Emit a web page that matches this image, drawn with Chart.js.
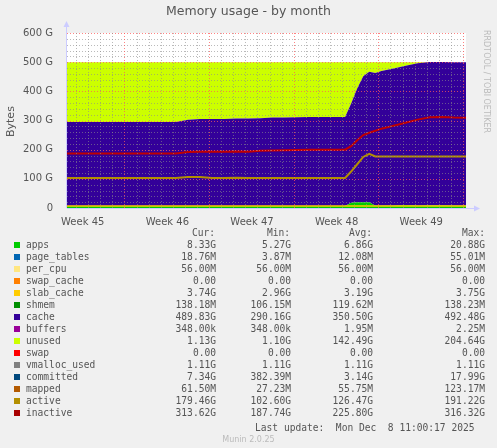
<!DOCTYPE html>
<html><head><meta charset="utf-8">
<script src="https://cdn.jsdelivr.net/npm/chart.js@4"></script>
<style>
body{margin:0;background:#f0f0f0;width:497px;height:448px;overflow:hidden;position:relative;font-family:"DejaVu Sans",sans-serif;color:#555}
#c{position:absolute;left:0;top:0}
.t{position:absolute;white-space:pre}
#leg{position:absolute;left:0;top:227px;font-family:"DejaVu Sans Mono",monospace;font-size:9.6px;color:#555}
.row{position:absolute;height:12px;white-space:pre}
.sq{position:absolute;left:14px;width:6px;height:6px;top:3px}
</style></head><body>
<canvas id="c" width="497" height="230"></canvas>
<div class="t" style="left:0;width:497px;text-align:center;top:3px;font-size:12.5px;color:#555">Memory usage - by month</div>
<div class="t" style="font-size:11px;transform:rotate(-90deg);transform-origin:left top;top:137px;left:4px">Bytes</div>
<div class="t" style="left:482px;top:30px;font-size:8px;color:#bbb;writing-mode:vertical-rl">RRDTOOL / TOBI OETIKER</div>
<div id="leg"></div>
<div class="t" style="left:0;width:497px;text-align:center;top:435px;font-size:8px;color:#bbb">Munin 2.0.25</div>
<script>
const days=[0,1,2,3,4,5,6,7,8,9,10,11,12,13,14,15,16,17,18,19,20,21,22,23,23.5,24,24.5,25,25.5,26,27,28,29,30,31,32,33];
const apps=[7,7,7,7,7,7,7,7,7,7,7,7,7,7,7,7,7,7,7,7,7,7,7,7,18,20,20,20,8,8,8,10,8,9,9,8,8];
const cache=[288,288,288,288,288,288,288,288,288,288,296,298,298,298,300,300,301,303,303,304,305,305,305,305,340,390,432,447,455,462,470,478,488,492,492,492,492];
const unused=[205,205,205,205,205,205,205,205,205,205,197,195,195,195,193,193,192,190,190,189,188,188,188,188,142,90,48,33,37,30,22,12,4,0,0,0,0];
const active=[103,103,103,103,103,103,103,103,103,103,106,106,103,103,104,103,103,103,103,103,103,103,103,103,125,150,175,186,177,177,177,177,177,177,177,177,177];
const inactive=[187,187,187,187,187,187,187,187,187,187,192,193,193,193,194,193,196,197,198,199,200,200,200,200,212,232,250,258,265,272,282,292,303,311,312,310,309];
const committed=[7,7,7,7,7,7,7,7,7,7,7,7,7,7,7,7,7,7,7,7,7,7,7,7,7,7,7,7,7,7,7,7,7,7,7,7,7];
const weekTicks=[1.3,8.3,15.3,22.3,29.3];
const weekLabels=["Week 45","Week 46","Week 47","Week 48","Week 49"];
const yTicks=[0,100,200,300,400,500,600];

const legRows=[
["apps","#00cc00","8.33G","5.27G","6.86G","20.88G"],
["page_tables","#0066b3","18.76M","3.87M","12.08M","55.01M"],
["per_cpu","#ffe680","56.00M","56.00M","56.00M","56.00M"],
["swap_cache","#ff8000","0.00","0.00","0.00","0.00"],
["slab_cache","#ffcc00","3.74G","2.96G","3.19G","3.75G"],
["shmem","#008f00","138.18M","106.15M","119.62M","138.23M"],
["cache","#330099","489.83G","290.16G","350.50G","492.48G"],
["buffers","#990099","348.00k","348.00k","1.95M","2.25M"],
["unused","#ccff00","1.13G","1.10G","142.49G","204.64G"],
["swap","#ff0000","0.00","0.00","0.00","0.00"],
["vmalloc_used","#808080","1.11G","1.11G","1.11G","1.11G"],
["committed","#00487d","7.34G","382.39M","3.14G","17.99G"],
["mapped","#b35a00","61.50M","27.23M","55.75M","123.17M"],
["active","#b38f00","179.46G","102.60G","126.47G","191.22G"],
["inactive","#a80000","313.62G","187.74G","225.80G","316.32G"]];
const leg=document.getElementById('leg');
let h='<div class="row" style="top:0;left:0"><span style="position:absolute;left:160px;width:55px;text-align:right">Cur:</span><span style="position:absolute;left:235px;width:55px;text-align:right">Min:</span><span style="position:absolute;left:317px;width:55px;text-align:right">Avg:</span><span style="position:absolute;left:425px;width:60px;text-align:right">Max:</span></div>';
legRows.forEach((r,i)=>{
 h+=`<div class="row" style="top:${12+i*12}px;left:0;width:497px"><div class="sq" style="background:${r[1]}"></div><span style="position:absolute;left:26px">${r[0]}</span><span style="position:absolute;left:140px;width:76px;text-align:right">${r[2]}</span><span style="position:absolute;left:215px;width:76px;text-align:right">${r[3]}</span><span style="position:absolute;left:297px;width:76px;text-align:right">${r[4]}</span><span style="position:absolute;left:409px;width:76px;text-align:right">${r[5]}</span></div>`;
});
h+='<div class="row" style="top:195px;left:255px">Last update:  Mon Dec  8 11:00:17 2025</div>';
leg.innerHTML=h;

const pts=a=>a.map((v,i)=>({x:days[i],y:v}));
const grid={id:'grid',beforeDatasetsDraw(ch){
 const {ctx,chartArea:a}=ch;ctx.save();
 ctx.fillStyle='#fff';ctx.fillRect(a.left,a.top,a.right-a.left,a.bottom-a.top);ctx.restore();},
 afterDatasetsDraw(ch){
 const {ctx,chartArea:a,scales:{x,y}}=ch;ctx.save();ctx.lineWidth=1;ctx.setLineDash([1,2]);
 for(let v=0;v<=600;v+=20){const py=Math.round(y.getPixelForValue(v))+0.5;ctx.strokeStyle=v%100==0?'rgba(255,90,90,0.75)':'rgba(140,140,140,0.6)';ctx.beginPath();ctx.moveTo(a.left,py);ctx.lineTo(a.right,py);ctx.stroke();}
 for(let d=0.75;d<=33;d+=1){const px=Math.round(x.getPixelForValue(d))+0.5;const maj=Math.abs(((d-4.75)%7+7)%7)<0.01;ctx.strokeStyle=maj?'rgba(255,90,90,0.75)':'rgba(140,140,140,0.6)';ctx.beginPath();ctx.moveTo(px,a.top);ctx.lineTo(px,a.bottom);ctx.stroke();}
 ctx.setLineDash([]);ctx.strokeStyle='#ccccff';ctx.beginPath();ctx.moveTo(a.left,a.bottom+0.5);ctx.lineTo(a.right+10,a.bottom+0.5);ctx.moveTo(a.left-0.5,a.bottom);ctx.lineTo(a.left-0.5,a.top-8);ctx.stroke();
 ctx.fillStyle='#ccccff';ctx.beginPath();ctx.moveTo(a.right+14,a.bottom+0.5);ctx.lineTo(a.right+8,a.bottom-2.5);ctx.lineTo(a.right+8,a.bottom+3.5);ctx.fill();
 ctx.beginPath();ctx.moveTo(a.left-0.5,a.top-12);ctx.lineTo(a.left-3.5,a.top-6);ctx.lineTo(a.left+2.5,a.top-6);ctx.fill();
 ctx.restore();}};
new Chart(document.getElementById('c'),{type:'line',
 data:{datasets:[
  {data:pts(apps),backgroundColor:'#00cc00',borderWidth:0,fill:'origin',stack:'s',pointRadius:0,order:10},
  {data:pts(cache),backgroundColor:'#330099',borderWidth:0,fill:'-1',stack:'s',pointRadius:0,order:10},
  {data:pts(unused),backgroundColor:'#ccff00',borderWidth:0,fill:'-1',stack:'s',pointRadius:0,order:10},
  {data:pts(committed),borderColor:'#ffcc00',borderWidth:1.5,fill:false,pointRadius:0,yAxisID:'y2',order:1},
  {data:pts(active),borderColor:'#b38f00',borderWidth:2,fill:false,pointRadius:0,yAxisID:'y2',order:1},
  {data:pts(inactive),borderColor:'#c00000',borderWidth:2,fill:false,pointRadius:0,yAxisID:'y2',order:1}]},
 options:{animation:false,responsive:false,plugins:{legend:{display:false},tooltip:{enabled:false}},
  layout:{padding:{top:33,right:31,left:0,bottom:0}},
  scales:{
   x:{type:'linear',min:0,max:33,grid:{display:false},border:{display:false},
     afterBuildTicks:s=>{s.ticks=weekTicks.map(v=>({value:v}));},
     afterFit:s=>{s.height=22;},
     ticks:{autoSkip:false,maxRotation:0,color:'#555',font:{family:'DejaVu Sans',size:10},padding:0,callback:(v,i)=>weekLabels[i]}},
   y:{stacked:true,min:0,max:600,grid:{display:false},border:{display:false},
     afterBuildTicks:s=>{s.ticks=yTicks.map(v=>({value:v}));},
     afterFit:s=>{s.width=67;},
     ticks:{color:'#555',font:{family:'DejaVu Sans',size:10},padding:6,callback:v=>v==0?'0':v+' G'}},
   y2:{display:false,min:0,max:600,stacked:false}}},
 plugins:[grid]});
</script></body></html>
